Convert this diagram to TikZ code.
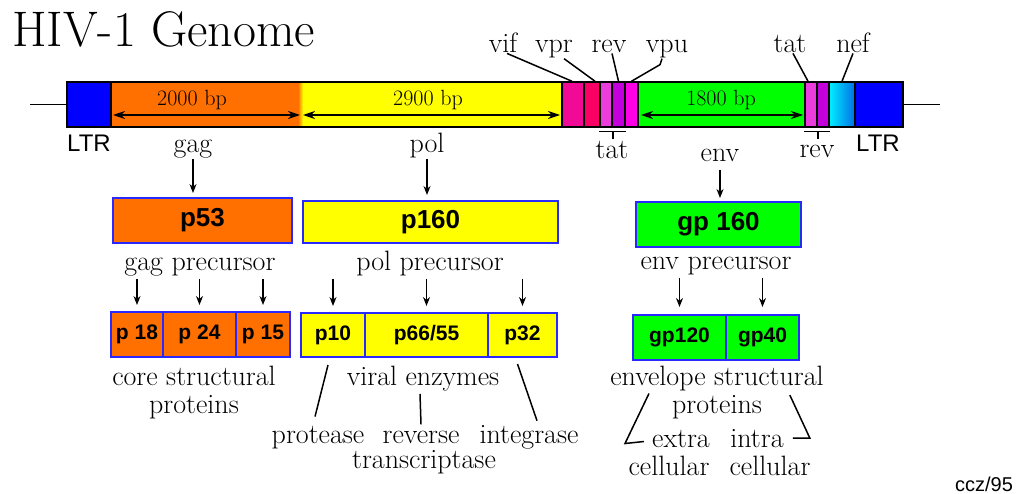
\documentclass[tikz,border=0pt]{standalone}
\usepackage{fontspec}
\setsansfont{Liberation Sans}
\usetikzlibrary{arrows.meta}
\tikzset{>={Stealth[length=9pt,width=7pt]}}
\definecolor{gagorange}{RGB}{255,112,0}
\definecolor{polyellow}{RGB}{255,255,0}
\definecolor{envgreen}{RGB}{0,255,0}
\definecolor{ltrblue}{RGB}{0,0,255}
\definecolor{vifpink}{RGB}{240,10,150}
\definecolor{vprred}{RGB}{250,0,100}
\definecolor{tatpink}{RGB}{235,60,220}
\definecolor{revpurple}{RGB}{195,0,220}
\definecolor{vpumag}{RGB}{255,0,230}
\definecolor{nefcyan}{RGB}{0,240,255}
\definecolor{nefblue}{RGB}{0,110,230}
\definecolor{boxblue}{RGB}{40,40,255}

\begin{document}
\begin{tikzpicture}[x=1pt, y=-1pt,
  lbl/.style={inner sep=0, font=\fontsize{28}{25}\selectfont},
  bpl/.style={inner sep=0, font=\fontsize{22}{24}\selectfont},
  sans/.style={inner sep=0, font=\sffamily\fontsize{24}{26}\selectfont},
  seg/.style={draw, line width=1.5pt, inner sep=0, minimum height=45pt},
  box/.style={draw=boxblue, line width=1.5pt, inner sep=0, outer sep=0, minimum height=45pt,
    font=\sffamily\bfseries\fontsize{26}{28}\selectfont},
  sbox/.style={box, font=\sffamily\bfseries\fontsize{21}{23}\selectfont},
  down/.style={->, line width=1.2pt, shorten <=3pt, shorten >=6pt},
  dim/.style={<->, line width=1.2pt, >={Stealth[length=12pt,width=8pt]}},
  tick/.style={line width=1.5pt}]
\useasboundingbox (0,0) rectangle (1016,494);

% title
\node[anchor=base west, inner sep=0, font=\fontsize{50}{54}\selectfont] (title) at (12,47) {HIV-1 Genome};

% genome bar
\fill[gagorange] (111,82) rectangle (298,127);
\shade[left color=gagorange, right color=polyellow] (298,82) rectangle (303,127);
\fill[polyellow] (303,82) rectangle (562,127);
\fill[envgreen] (638,82) rectangle (805,127);
\draw[line width=1.5pt] (67,82) rectangle (903,127);
\foreach \nm/\xa/\xb/\cl in {ltrL/67/111/ltrblue, vifseg/562/584/vifpink, vprseg/584/600/vprred,
  tatseg/600/612/tatpink, revseg/612/625/revpurple, vpuseg/625/638/vpumag,
  tattwo/805/817/tatpink, revtwo/817/829/revpurple, ltrR/855/903/ltrblue}
  \node[seg, fill=\cl, minimum width={(\xb-\xa)*1pt}] (\nm) at ({(\xa+\xb)/2},104.5) {};
\node[seg, left color=nefcyan, right color=nefblue, minimum width=26pt] (nefseg) at (842,104.5) {};
\draw[tick] (30,104.5) -- (ltrL.west);
\draw[tick] (ltrR.east) -- (940,104.5);

% lengths
\node[bpl, anchor=base] (gaglen) at (192,106) {2000 bp};
\node[bpl, anchor=base] (pollen) at (428,106) {2900 bp};
\node[bpl, anchor=base] (envlen) at (721,106) {1800 bp};
\draw[dim] (113,115) -- (300,115);
\draw[dim] (303,115) -- (560,115);
\draw[dim] (641,115) -- (803,115);

% small genes
\node[lbl, anchor=base] (vif) at (503,53) {vif};
\node[lbl, anchor=base] (vpr) at (554,53) {vpr};
\node[lbl, anchor=base] (rev) at (609,53) {rev};
\node[lbl, anchor=base] (vpu) at (667,53) {vpu};
\node[lbl, anchor=base] (tat) at (790,53) {tat};
\node[lbl, anchor=base] (nef) at (853,53) {nef};
\draw[tick] ([xshift=4pt]vif.south) -- ([xshift=-1pt]vifseg.north);
\draw[tick] ([xshift=10pt]vpr.south) -- ([xshift=3pt]vprseg.north);
\draw[tick] ([xshift=3pt]rev.south) -- (revseg.north);
\draw[tick] ([xshift=-5pt]vpu.south) -- ++(-2,6) -- (vpuseg.north);
\draw[tick] ([xshift=3pt]tat.south) -- ([xshift=-3pt]tattwo.north);
\draw[tick] (nef.south) -- (nefseg.north);

\node[lbl, anchor=base] (tatlow) at (612,159) {tat};
\node[lbl, anchor=base] (revlow) at (817,158) {rev};
\draw[tick] ([yshift=-4pt]tatseg.south west) -- ([yshift=-4pt]revseg.south east);
\draw[tick] ([yshift=-4pt]tatseg.south east) -- ([yshift=-11pt]tatseg.south east);
\draw[tick] ([yshift=-4pt]tattwo.south west) -- ([yshift=-4pt]revtwo.south east);
\draw[tick] ([yshift=-4pt]tattwo.south east) -- ([yshift=-11pt]tattwo.south east);

\node[sans, anchor=base] (ltrLlbl) at (89,152) {LTR};
\node[sans, anchor=base] (ltrRlbl) at (878,152) {LTR};

% genes
\node[lbl, anchor=base] (gag) at (193,153) {gag};
\node[lbl, anchor=base] (pol) at (427,153) {pol};
\node[lbl, anchor=base] (env) at (720,162) {env};

% precursors
\node[box, fill=gagorange, minimum width=179pt] (p53) at (202.5,220.5) {p53};
\node[box, fill=polyellow, minimum width=255pt, minimum height=42pt] (p160) at (430.5,222) {p160};
\node[box, fill=envgreen, minimum width=165pt] (gp160) at (718.5,224.5) {gp 160};
\draw[down, shorten <=0pt, shorten >=5pt] (gag.south) -- (gag.south |- p53.north);
\draw[down, shorten <=0pt] (pol.south) -- (pol.south |- p160.north);
\draw[down, shorten <=8pt, shorten >=4pt] (env.south) -- (env.south |- gp160.north);

\node[lbl, anchor=base] (gagpre) at (200,270) {gag precursor};
\node[lbl, anchor=base] (polpre) at (430,270) {pol precursor};
\node[lbl, anchor=base] (envpre) at (716,269) {env precursor};

% mature proteins
\node[sbox, fill=gagorange, minimum width=52pt] (p18) at (137,334.5) {p 18};
\node[sbox, fill=gagorange, minimum width=73pt] (p24) at (199.5,334.5) {p 24};
\node[sbox, fill=gagorange, minimum width=54pt] (p15) at (263,334.5) {p 15};
\node[sbox, fill=polyellow, minimum width=64pt, minimum height=44pt] (p10) at (333,335) {p10};
\node[sbox, fill=polyellow, minimum width=123pt, minimum height=44pt] (p66) at (426.5,335) {p66/55};
\node[sbox, fill=polyellow, minimum width=69pt, minimum height=44pt] (p32) at (522.5,335) {p32};
\node[sbox, fill=envgreen, minimum width=93pt] (gp120) at (679.5,337.5) {gp120};
\node[sbox, fill=envgreen, minimum width=73pt] (gp40) at (762.5,337.5) {gp40};
\foreach \b in {p18,p24,p15}
  \draw[down, shorten >=7pt] (\b.north |- gagpre.south) -- (\b.north);
\foreach \b in {p10,p66,p32}
  \draw[down, shorten >=7pt] (\b.north |- polpre.south) -- (\b.north);
\foreach \b in {gp120,gp40}
  \draw[down, shorten >=8pt] (\b.north |- envpre.south) -- (\b.north);

% functions
\node[lbl, anchor=base, align=center] (core) at (194,413) {core structural\\[3pt]proteins};
\node[lbl, anchor=base] (viral) at (423,385) {viral enzymes};
\node[lbl, anchor=base] (protease) at (318,443) {protease};
\node[lbl, anchor=base] (reverse) at (421,443) {reverse};
\node[lbl, anchor=base] (trans) at (424,468) {transcriptase};
\node[lbl, anchor=base] (integrase) at (529,443) {integrase};
\draw[tick] ([xshift=-5pt, yshift=-8pt]p10.south) -- ([xshift=-3pt, yshift=9pt]protease.north);
\draw[tick] ([xshift=-3pt, yshift=-3pt]viral.south) -- ([yshift=6pt]reverse.north);
\draw[tick] ([xshift=-5pt, yshift=-7pt]p32.south) -- ([xshift=8pt, yshift=4pt]integrase.north);

\node[lbl, anchor=base, align=center] (envprot) at (717,413) {envelope structural\\[3pt]proteins};
\node[lbl, anchor=base] (extra) at (681,447) {extra};
\node[lbl, anchor=base] (cellL) at (669,475) {cellular};
\node[lbl, anchor=base] (intra) at (757,447) {intra};
\node[lbl, anchor=base] (cellR) at (770,475) {cellular};
\draw[tick] ([xshift=-3pt, yshift=45pt]extra.west) -- ([xshift=-27pt, yshift=-5pt]extra.west)
  -- ([xshift=-8pt, yshift=-3pt]extra.west);
\draw[tick] ([xshift=6pt, yshift=43pt]intra.east) -- ([xshift=26pt]intra.east)
  -- ([xshift=9pt]intra.east);

\node[inner sep=0, anchor=base, font=\sffamily\fontsize{20}{22}\selectfont] (credit) at (984,491) {ccz/95};
\end{tikzpicture}
\end{document}
